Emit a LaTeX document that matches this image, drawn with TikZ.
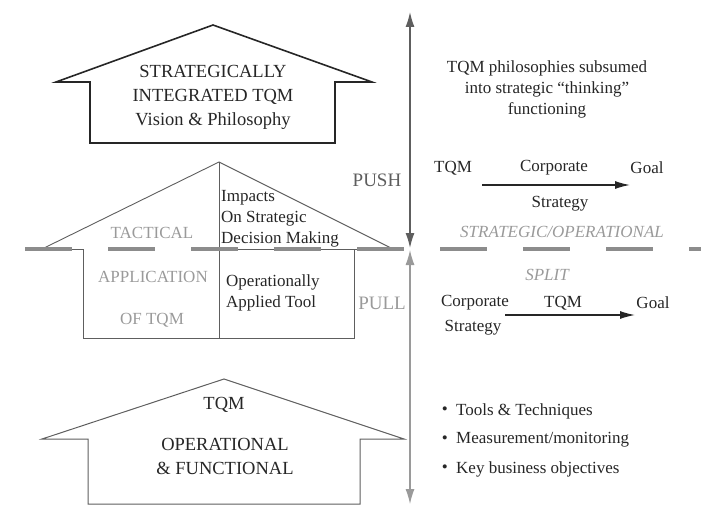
\documentclass[tikz,border=0pt]{standalone}
\usepackage{fontspec}
\setmainfont{Liberation Serif}
\usepackage{tikz}
\usetikzlibrary{positioning,arrows.meta,calc}
\definecolor{darkline}{HTML}{262626}
\definecolor{midline}{HTML}{5E5E5E}
\definecolor{splitgray}{HTML}{8C8C8C}
\definecolor{softgray}{HTML}{9A9A9A}
\def\TxtSize{\fontsize{17}{21}\selectfont}
\def\HouseSize{\fontsize{18.5}{24}\selectfont}
\def\PushSize{\fontsize{19}{23}\selectfont}

\begin{document}
\begin{tikzpicture}[x=1pt,y=-1pt,
	txt/.style={font=\TxtSize,text=black!85,inner sep=0pt,align=center},
	housetxt/.style={font=\HouseSize,text=black!85,inner sep=0pt,align=center},
	graytxt/.style={font=\TxtSize,text=softgray,inner sep=0pt,align=center},
	splittxt/.style={font=\TxtSize\itshape,text=softgray,inner sep=0pt},
	flow/.style={-{Latex[length=15pt,width=8pt]},line width=1.3pt,draw=black!85},
	pushpull/.style={-{Latex[length=15pt,width=9pt]}},
	tophouse/.style={draw=darkline,line width=1.6pt,line join=miter},
	midhouse/.style={draw=midline,line width=0.9pt},
	lowhouse/.style={draw=midline,line width=1pt}]
	\useasboundingbox (0,0) rectangle (701,527);
	% 
	% houses
	\draw[tophouse] (90,143) -- (90,82) -- (56,82) -- (213,25) -- (372,82) -- (335,82) -- (335,143) -- cycle;
	\draw[midhouse] (42,249) -- (219,162) -- (393,249);
	\draw[midhouse] (42,249) -- (83,249) -- (83,338) -- (354,338) -- (354,249) -- (393,249);
	\draw[midhouse] (219,162) -- (219,338);
	\draw[midhouse] (219,249) -- (354,249);
	\draw[lowhouse] (88,504) -- (88,439) -- (42,439) -- (224,379) -- (404,439) -- (360,439) -- (360,504) -- cycle;
	% 
	% strategic/operational split line
	\draw[splitgray,line width=4.5pt,dash pattern=on 47pt off 36pt] (25,249) -- (701,249);
	% 
	% push / pull arrows
	\coordinate (pushtop) at (410,12);
	\coordinate (split) at (410,249);
	\coordinate (pullbot) at (410,504);
	\draw[midline,line width=1.3pt,pushpull] ($(split)+(0,-18)$) -- (pushtop);
	\draw[midline,line width=1.3pt,pushpull] ($(split)+(0,-18)$) -- ($(split)+(0,-1)$);
	\draw[softgray,line width=1.1pt,pushpull] ($(split)+(0,18)$) -- (pullbot);
	\draw[softgray,line width=1.1pt,pushpull] ($(split)+(0,18)$) -- ($(split)+(0,1)$);
	\node[font=\PushSize,text=midline,inner sep=0pt] (push) at (377,180) {PUSH};
	\node[font=\PushSize,text=softgray,inner sep=0pt] (pull) at (382,303) {PULL};
	% 
	% house texts
	\node[housetxt] (vision) at (213,97) {STRATEGICALLY\\INTEGRATED TQM\\Vision \& Philosophy};
	\node[graytxt] (tactical) at (152,233) {TACTICAL};
	\node[graytxt] (application) at (153,277) {APPLICATION};
	\node[graytxt] (oftqm) at (152,320) {OF TQM};
	\node[txt,align=left,anchor=west] (impacts) at (221,219) {Impacts\\On Strategic\\Decision Making};
	\node[txt,align=left,anchor=west] (applied) at (226,293) {Operationally\\Applied Tool};
	\node[housetxt] (optqm) at (224,405) {TQM};
	\node[housetxt] (operational) at (225,456) {OPERATIONAL\\\& FUNCTIONAL};
	% 
	% right column
	\node[txt] (subsumed) at (547,89) {TQM philosophies subsumed\\into strategic ``thinking''\\functioning};
	\node[txt] (tqmA) at (453,168) {TQM};
	\node[txt] (corpA) at (554,168) {Corporate};
	\node[txt] (goalA) at (647,168) {Goal};
	\node[txt] (stratA) at (560,204) {Strategy};
	\coordinate (flowA) at (482,185);
	\coordinate (flowAend) at (630,185);
	\draw[flow] (flowA) -- (flowAend);
	\node[splittxt] (stratop) at (562,232) {STRATEGIC/OPERATIONAL};
	\node[splittxt] (splitlbl) at (547,275) {SPLIT};
	\node[txt] (corpB) at (475,303) {Corporate};
	\node[txt] (stratB) at (473,328) {Strategy};
	\node[txt] (tqmB) at (563,303) {TQM};
	\node[txt] (goalB) at (653,303) {Goal};
	\coordinate (flowB) at (505,315);
	\coordinate (flowBend) at (635,315);
	\draw[flow] (flowB) -- (flowBend);
	% 
	\foreach \y/\item in {411/{Tools \& Techniques},440/{Measurement/monitoring},469/{Key business objectives}}{
		\node[txt,anchor=west] (bullet\y) at (456,\y) {\item};
		\node[txt,anchor=east] at ([xshift=-8pt]bullet\y.west) {\textbullet};
	}
\end{tikzpicture}
\end{document}
